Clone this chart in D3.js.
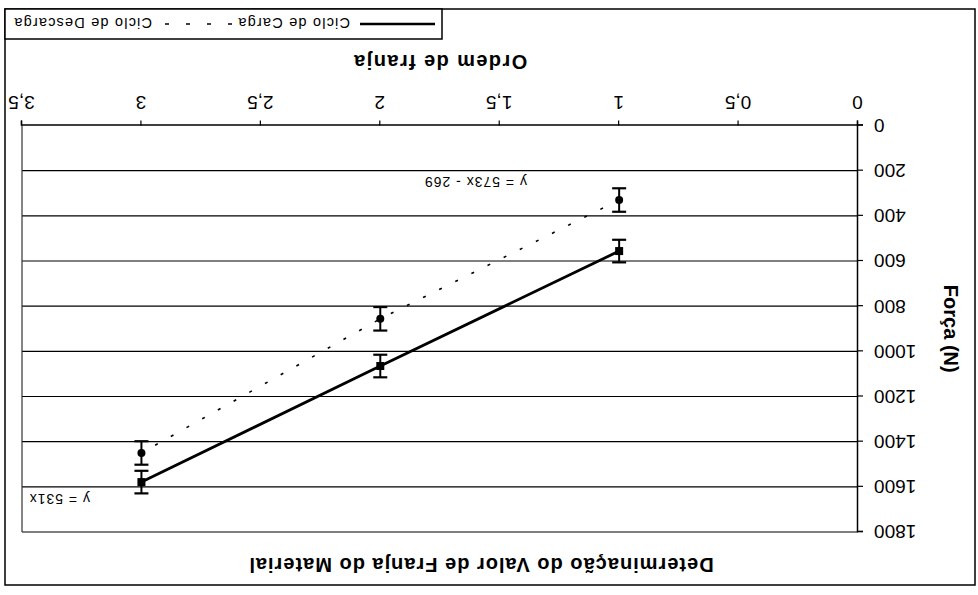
<!DOCTYPE html>
<html>
<head>
<meta charset="utf-8">
<script src="https://cdn.jsdelivr.net/npm/d3@7"></script>
<style>
  body { margin: 0; background: #fff; }
  svg text { font-family: "Liberation Sans", Arial, sans-serif; fill: #000; }
</style>
</head>
<body>
<svg id="chart" width="978" height="595"></svg>
<script>
// values
const ordem = [1, 2, 3];
const cargaForca = [556, 1065, 1579];
const cargaErro = [50, 50, 50];
const descargaForca = [330, 856, 1450];
const descargaErro = [52, 52, 52];
const xTicks = [0, 0.5, 1, 1.5, 2, 2.5, 3, 3.5];
const yTicks = [0, 200, 400, 600, 800, 1000, 1200, 1400, 1600, 1800];
const seriesNames = ["Ciclo de Carga", "Ciclo de Descarga"];
const equations = ["y = 531x", "y = 573x - 269"];

const W = 978, H = 595;
const plot = { left: 120, right: 956, top: 63, bottom: 469.5 };

const svg = d3.select("#chart");
svg.append("rect").attr("width", W).attr("height", H).attr("fill", "#fff");

// the whole chart is shown turned upside down
const g = svg.append("g").attr("transform", `rotate(180,${W / 2},${H / 2})`);

const x = d3.scaleLinear().domain([0, 3.5]).range([plot.left, plot.right]);
const y = d3.scaleLinear().domain([0, 1800]).range([plot.bottom, plot.top]);

// outer border
g.append("rect")
  .attr("x", 3).attr("y", 10).attr("width", 970).attr("height", 576)
  .attr("fill", "none").attr("stroke", "#000").attr("stroke-width", 1.5);

// gridlines
g.selectAll(".grid")
  .data(yTicks.filter(d => d > 0))
  .join("line")
  .attr("x1", plot.left).attr("x2", plot.right)
  .attr("y1", d => y(d)).attr("y2", d => y(d))
  .attr("stroke", "#000").attr("stroke-width", 1.2);

// plot area right edge
g.append("line")
  .attr("x1", plot.right).attr("x2", plot.right)
  .attr("y1", plot.top).attr("y2", plot.bottom)
  .attr("stroke", "#333").attr("stroke-width", 1.2);

// axes
const xAxis = g.append("g")
  .attr("transform", `translate(0,${plot.bottom})`)
  .call(d3.axisBottom(x).tickValues(xTicks).tickSize(5).tickPadding(11)
    .tickFormat(d => String(d).replace(".", ",")));
const yAxis = g.append("g")
  .attr("transform", `translate(${plot.left},0)`)
  .call(d3.axisLeft(y).tickValues(yTicks).tickSize(5).tickPadding(11)
    .tickFormat(d => String(d)));
[xAxis, yAxis].forEach(a => {
  a.select(".domain").attr("stroke", "#000").attr("stroke-width", 1.5);
  a.selectAll(".tick line").attr("stroke", "#000").attr("stroke-width", 1.2);
  a.selectAll("text").style("font-size", "19px")
    .style("font-family", "'Liberation Sans', Arial, sans-serif");
});

// titles
g.append("text")
  .attr("x", 497).attr("y", 37)
  .attr("text-anchor", "middle")
  .style("font-size", "20px").style("font-weight", "bold").style("letter-spacing", "1px")
  .text("Determinação do Valor de Franja do Material");
g.append("text")
  .attr("x", (plot.left + plot.right) / 2).attr("y", 540)
  .attr("text-anchor", "middle")
  .style("font-size", "20px").style("font-weight", "bold").style("letter-spacing", "1.4px")
  .text("Ordem de franja");
g.append("text")
  .attr("transform", `translate(34,${(plot.top + plot.bottom) / 2}) rotate(-90)`)
  .attr("text-anchor", "middle")
  .style("font-size", "20px").style("font-weight", "bold")
  .text("Força (N)");

// series
const carga = ordem.map((d, i) => ({ x: d, y: cargaForca[i], e: cargaErro[i] }));
const descarga = ordem.map((d, i) => ({ x: d, y: descargaForca[i], e: descargaErro[i] }));
const line = d3.line().x(d => x(d.x)).y(d => y(d.y));

g.append("path").datum(descarga).attr("d", line)
  .attr("fill", "none").attr("stroke", "#000")
  .attr("stroke-width", 1.6).attr("stroke-dasharray", "3,15");
g.append("path").datum(carga).attr("d", line)
  .attr("fill", "none").attr("stroke", "#000").attr("stroke-width", 2.8);

function errorBars(data) {
  const eb = g.append("g");
  eb.selectAll(".stem").data(data).join("line")
    .attr("x1", d => x(d.x)).attr("x2", d => x(d.x))
    .attr("y1", d => y(d.y - d.e)).attr("y2", d => y(d.y + d.e))
    .attr("stroke", "#000").attr("stroke-width", 2);
  [-1, 1].forEach(s => {
    eb.append("g").selectAll("line").data(data).join("line")
      .attr("x1", d => x(d.x) - 7).attr("x2", d => x(d.x) + 7)
      .attr("y1", d => y(d.y + s * d.e))
      .attr("y2", d => y(d.y + s * d.e))
      .attr("stroke", "#000").attr("stroke-width", 2.2);
  });
}
errorBars(descarga);
errorBars(carga);

g.selectAll(".sq").data(carga).join("rect")
  .attr("x", d => x(d.x) - 4).attr("y", d => y(d.y) - 4)
  .attr("width", 8).attr("height", 8).attr("fill", "#000");
g.selectAll(".ci").data(descarga).join("circle")
  .attr("cx", d => x(d.x)).attr("cy", d => y(d.y)).attr("r", 4).attr("fill", "#000");

// trend equations
g.append("text").attr("x", 888).attr("y", 101)
  .style("font-size", "14px").style("letter-spacing", "1px").text(equations[0]);
g.append("text").attr("x", 451).attr("y", 418)
  .style("font-size", "14px").style("letter-spacing", "1px").text(equations[1]);

// legend
const lg = g.append("g");
lg.append("rect")
  .attr("x", 536).attr("y", 556).attr("width", 437).attr("height", 30)
  .attr("fill", "#fff").attr("stroke", "#000").attr("stroke-width", 1.5);
lg.append("line").attr("x1", 543).attr("x2", 618).attr("y1", 571).attr("y2", 571)
  .attr("stroke", "#000").attr("stroke-width", 2.5);
lg.append("text").attr("x", 628).attr("y", 577)
  .style("font-size", "14.5px").style("letter-spacing", "1.2px").text(seriesNames[0]);
lg.append("line").attr("x1", 746).attr("x2", 816).attr("y1", 571).attr("y2", 571)
  .attr("stroke", "#000").attr("stroke-width", 1.6).attr("stroke-dasharray", "4,17");
lg.append("text").attr("x", 826).attr("y", 577)
  .style("font-size", "14.5px").style("letter-spacing", "1.2px").text(seriesNames[1]);
</script>
</body>
</html>
